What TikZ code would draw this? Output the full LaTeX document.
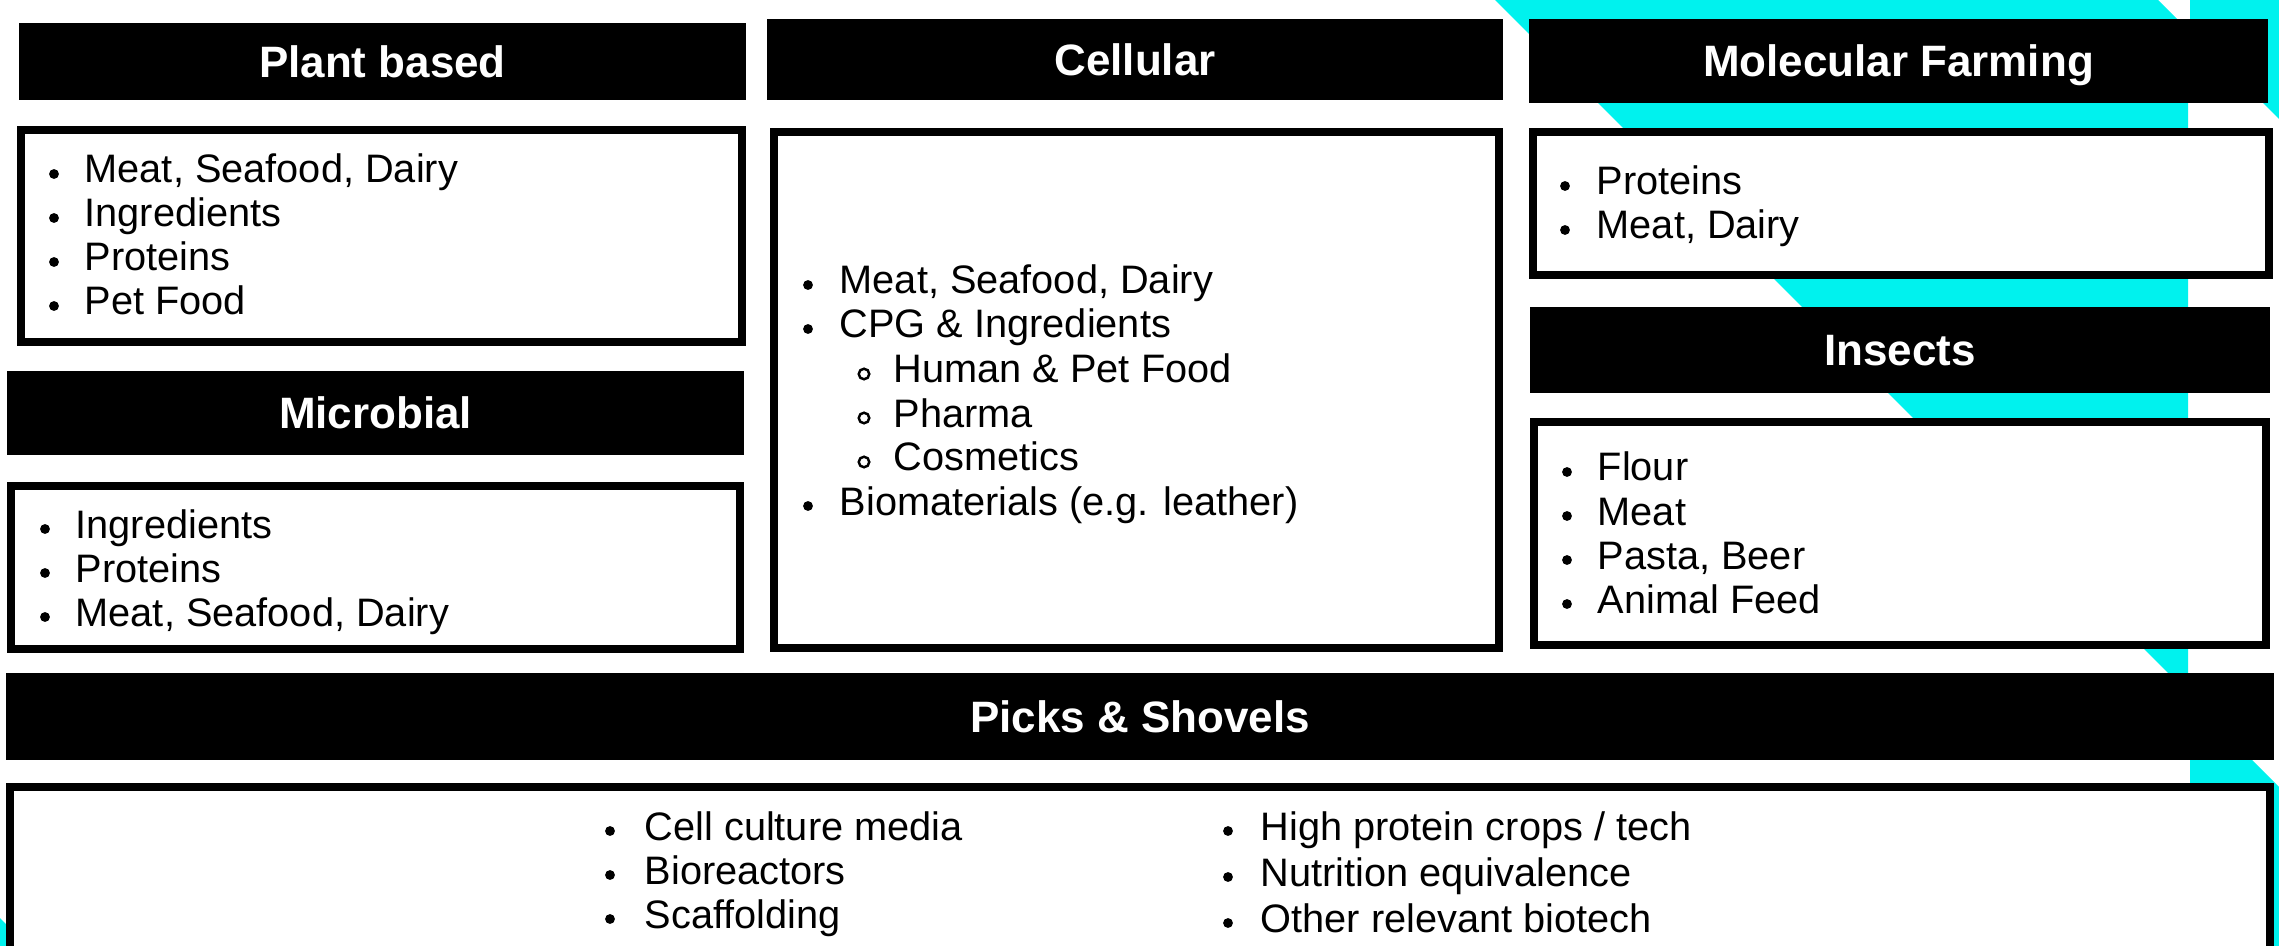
\documentclass[tikz,border=0pt]{standalone}
\usepackage{fontspec}
\setmainfont{Liberation Sans}
\usetikzlibrary{positioning}
\definecolor{slash}{HTML}{00F2EE}
\tikzset{
  hdr/.style={fill=black, text=white, inner sep=0pt, text height=9pt, text depth=0pt, font=\fontsize{12.5}{15}\selectfont\bfseries},
  panel/.style={draw=black, fill=white, line width=0.08cm, inner sep=0pt},
  item/.style={anchor=base west, inner sep=0pt, font=\fontsize{11.3}{13}\selectfont},
}

\begin{document}
\begin{tikzpicture}[x=0.01cm, y=-0.01cm]
\useasboundingbox (0,0) rectangle (2279,946);
\fill[white] (0,0) rectangle (2279,946);
% cyan slashes behind everything
\fill[slash] (1495,0) -- (2158,0) -- (2188,30) -- (2188,693) -- cycle;
\fill[slash] (2190,0) -- (2279,0) -- (2279,119) -- (2190,30) -- cycle;
\fill[slash] (2190,698) -- (2279,787) -- (2279,946) -- (2190,946) -- cycle;
\fill[slash] (0,918) -- (28,946) -- (0,946) -- cycle;

% headers
\node[hdr, minimum width=7.27cm, minimum height=0.77cm] (plant) at (382.5,61.5) {Plant based};
\node[hdr, minimum width=7.37cm, minimum height=0.84cm] (micro) at (375.5,413) {Microbial};
\node[hdr, minimum width=7.36cm, minimum height=0.81cm] (cell) at (1135,59.5) {Cellular};
\node[hdr, minimum width=7.39cm, minimum height=0.84cm] (molec) at (1898.5,61) {Molecular Farming};
\node[hdr, minimum width=7.40cm, minimum height=0.86cm] (insect) at (1900,350) {Insects};
\node[hdr, minimum width=22.66cm, minimum height=0.87cm] (picks) at (1140,716.5) {Picks \& Shovels};

% content panels
\node[panel, minimum width=7.21cm, minimum height=2.12cm] (plantbox) at (381.5,236) {};
\node[panel, minimum width=7.29cm, minimum height=1.63cm] (microbox) at (375.5,567.5) {};
\node[panel, minimum width=7.25cm, minimum height=5.16cm] (cellbox) at (1136.5,390) {};
\node[panel, minimum width=7.36cm, minimum height=1.43cm] (molecbox) at (1901,203.5) {};
\node[panel, minimum width=7.32cm, minimum height=2.23cm] (insectbox) at (1900,533.5) {};
\node[panel, minimum width=22.58cm, minimum height=1.90cm] (picksbox) at (1140,882) {};

% lists
\foreach \t [count=\i] in {{Meat, Seafood, Dairy}, Ingredients, Proteins, {Pet Food}}
{
\fill (54,130+44*\i) circle (1.4pt);
\node[item] (plant-\i) at (84,139+44*\i) {\t};
}
\foreach \t [count=\i] in {Ingredients, Proteins, {Meat, Seafood, Dairy}}
{
\fill (45,485+44*\i) circle (1.4pt);
\node[item] (micro-\i) at (75,494+44*\i) {\t};
}
\foreach \t [count=\i] in {Proteins, {Meat, Dairy}}
{
\fill (1565,142+44*\i) circle (1.4pt);
\node[item] (molec-\i) at (1596,151+44*\i) {\t};
}
\foreach \t [count=\i] in {Flour, Meat, {Pasta, Beer}, {Animal Feed}}
{
\fill (1567,428+44*\i) circle (1.4pt);
\node[item] (insect-\i) at (1597,437+44*\i) {\t};
}

\fill (808,285) circle (1.4pt);
\fill (808,329) circle (1.4pt);
\fill (808,506) circle (1.4pt);
\node[item] (cell-1) at (839,294) {Meat, Seafood, Dairy};
\node[item] (cell-2) at (839,338) {CPG \& Ingredients};
\node[item] (cell-3) at (839,515) {Biomaterials (e.g. leather)};
\foreach \t [count=\i] in {{Human \& Pet Food}, Pharma, Cosmetics}
{
\draw[line width=0.7pt] (864,330+44*\i) circle (1.5pt);
\node[item] (cellsub-\i) at (893,339+44*\i) {\t};
}

\foreach \t [count=\i] in {{Cell culture media}, Bioreactors, Scaffolding}
{
\fill (610,787+44*\i) circle (1.4pt);
\node[item] (picksa-\i) at (644,796+44*\i) {\t};
}
\foreach \t [count=\i] in {{High protein crops / tech}, {Nutrition equivalence}, {Other relevant biotech}}
{
\fill (1228,785+46*\i) circle (1.4pt);
\node[item] (picksb-\i) at (1260,794+46*\i) {\t};
}
\end{tikzpicture}
\end{document}
